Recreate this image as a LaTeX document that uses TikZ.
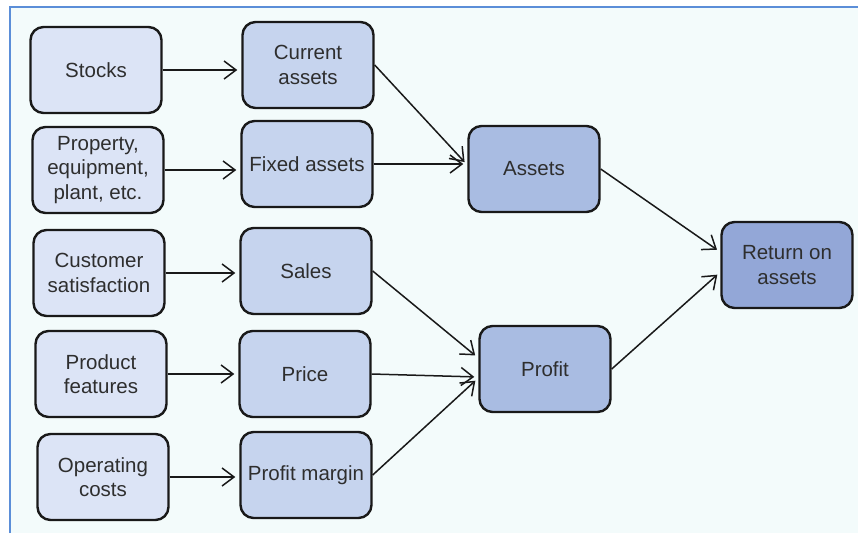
\documentclass[tikz,border=0pt]{standalone}
\usepackage{fontspec}
\setmainfont{Liberation Sans}
\usetikzlibrary{arrows.meta}
\definecolor{frameblue}{HTML}{5B8ED8}
\definecolor{paper}{HTML}{F3FBFB}
\definecolor{tierA}{HTML}{DCE4F6}
\definecolor{tierB}{HTML}{C6D4EE}
\definecolor{tierC}{HTML}{A9BCE2}
\definecolor{tierD}{HTML}{93A7D7}
\definecolor{inkgray}{HTML}{2E2E2E}
\tikzset{
  x=1pt, y=-1pt,
  box/.style={draw=black!90, line width=2.4pt, rounded corners=13pt,
    minimum width=131pt, minimum height=86pt, align=center,
    text=inkgray, font=\fontsize{20.5}{24.5}\selectfont, inner sep=2pt},
  lvlA/.style={box, fill=tierA},
  lvlB/.style={box, fill=tierB},
  lvlC/.style={box, fill=tierC},
  lvlD/.style={box, fill=tierD},
  link/.style={line width=1.5pt, black!90,
    -{Straight Barb[length=12pt,width=18pt,line width=1.5pt]}, shorten >=4pt}
}
\begin{document}
\begin{tikzpicture}
\useasboundingbox (0,0) rectangle (858,533);
\fill[white] (0,0) rectangle (858,533);
\fill[paper] (10,7) rectangle (858,533);
\draw[frameblue, line width=2pt] (10,533) -- (10,7) -- (858,7);

% inputs
\node[lvlA] (stocks) at (96,70) {Stocks};
\node[lvlA] (prop) at (98,170) {Property,\\equipment,\\plant, etc.};
\node[lvlA] (cust) at (99,273) {Customer\\satisfaction};
\node[lvlA] (feat) at (101,374) {Product\\features};
\node[lvlA] (opcost) at (103,477) {Operating\\costs};

% intermediate measures
\node[lvlB] (curr) at (308,65) {Current\\assets};
\node[lvlB] (fixed) at (307,164) {Fixed assets};
\node[lvlB] (sales) at (306,271) {Sales};
\node[lvlB] (price) at (305,374) {Price};
\node[lvlB] (margin) at (306,475) {Profit margin};

% aggregates
\node[lvlC] (assets) at (534,169) {Assets};
\node[lvlC] (profit) at (545,369) {Profit};
\node[lvlD] (roa) at (787,265) {Return on\\assets};

\draw[link] (stocks.east) -- (stocks.east -| curr.west);
\draw[link] (prop.east) -- (prop.east -| fixed.west);
\draw[link] (cust.east) -- (cust.east -| sales.west);
\draw[link] (feat.east) -- (feat.east -| price.west);
\draw[link] (opcost.east) -- (opcost.east -| margin.west);

\draw[link] (curr.east) -- ([yshift=4pt]assets.west);
\draw[link] (fixed.east) -- ([yshift=5pt]assets.west);
\draw[link] (sales.east) -- ([yshift=11pt]profit.west);
\draw[link] (price.east) -- ([yshift=-8pt]profit.west);
\draw[link] (margin.east) -- ([yshift=-9pt]profit.west);

\draw[link] (assets.east) -- ([yshift=13pt]roa.west);
\draw[link] (profit.east) -- ([yshift=-7pt]roa.west);
\end{tikzpicture}
\end{document}
